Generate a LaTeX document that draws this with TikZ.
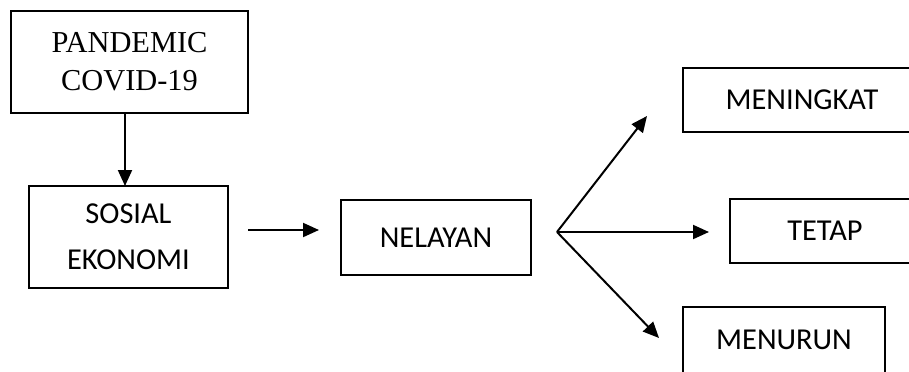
\documentclass[tikz,border=0pt]{standalone}
\usepackage{fontspec}
\setmainfont{Liberation Serif}
\newfontfamily\calib{Carlito}
\usetikzlibrary{arrows.meta}
\begin{document}
\begin{tikzpicture}[x=0.75pt,y=-0.75pt,
  box/.style={draw,line width=1.5pt,inner sep=0pt,align=center},
  serifbox/.style={box,font=\fontsize{22.8}{28.5}\selectfont},
  sansbox/.style={box,font=\calib\fontsize{22.8}{34.5}\selectfont},
  arr/.style={line width=1.5pt,-{Triangle[length=12pt,width=10.5pt]}}]
\clip (0,0) rectangle (909,371);
\node[serifbox,minimum width=177.75pt,minimum height=76.5pt] (pan) at (129.5,62) {PANDEMIC\\COVID-19};
\node[sansbox,minimum width=149.25pt,minimum height=76.5pt] (sos) at (128.5,237) {SOSIAL\\EKONOMI};
\node[sansbox,minimum width=142.5pt,minimum height=56.25pt] (nel) at (436,237.5) {NELAYAN};
\node[sansbox,minimum width=178.5pt,minimum height=48pt] (men) at (802,100) {MENINGKAT};
\node[sansbox,minimum width=142.5pt,minimum height=48pt] (tet) at (825,231) {TETAP};
\node[sansbox,minimum width=151.5pt,minimum height=49.5pt] (tur) at (784,340) {MENURUN};
\coordinate (a1) at (125,113);
\coordinate (a2) at (125,186);
\coordinate (b1) at (248,230);
\coordinate (b2) at (319,230);
\coordinate (f) at (557,232);
\coordinate (t1) at (647,116);
\coordinate (t2) at (709,232);
\coordinate (t3) at (659,338);
\draw[arr] (a1) -- (a2);
\draw[arr] (b1) -- (b2);
\draw[arr] (f) -- (t1);
\draw[arr] (f) -- (t2);
\draw[arr] (f) -- (t3);
\end{tikzpicture}
\end{document}
